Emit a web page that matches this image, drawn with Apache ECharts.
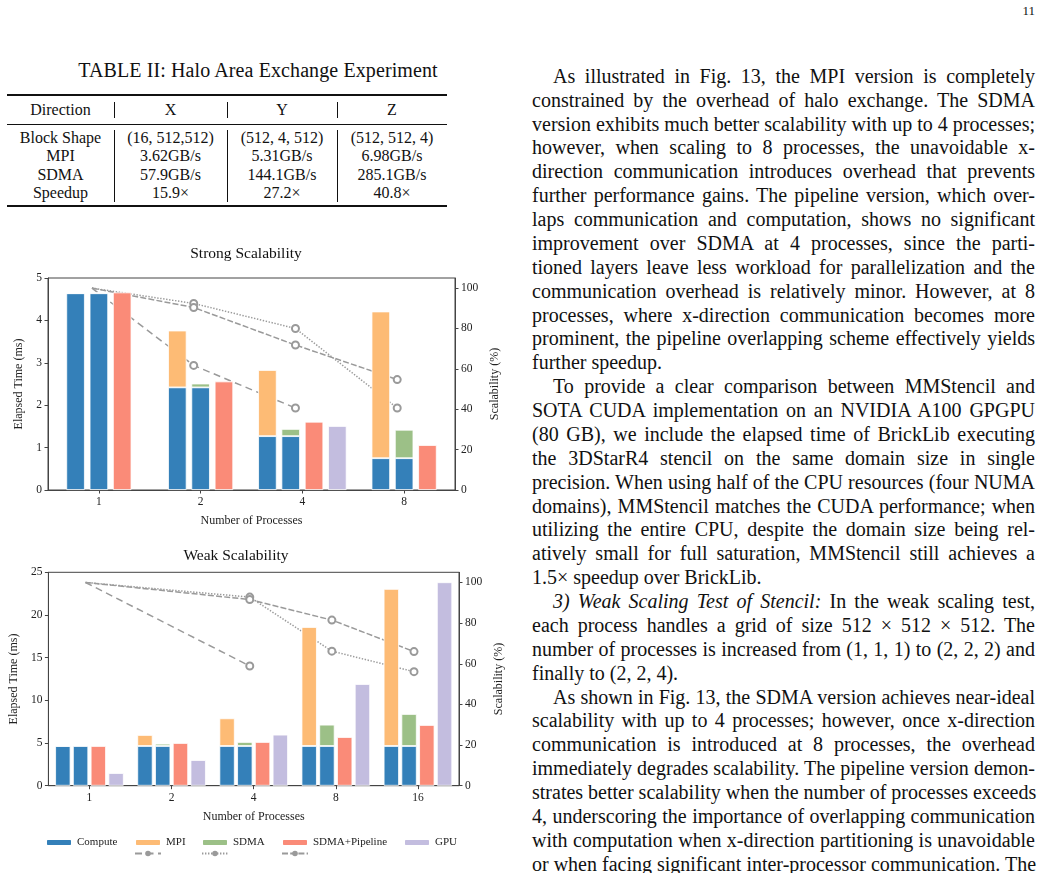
<!DOCTYPE html>
<html>
<head>
<meta charset="utf-8">
<script src="https://cdn.jsdelivr.net/npm/echarts@6/dist/echarts.min.js"></script>
<style>
  html, body { margin: 0; padding: 0; background: #fff; }
  body { width: 1041px; height: 873px; position: relative; overflow: hidden;
         font-family: 'Liberation Serif', 'Times New Roman', serif; color: #111; }
  .abs { position: absolute; }
  .pageno { right: 6px; top: 3px; font-size: 13px; }
  .caption { left: -2px; width: 520px; top: 59px; text-align: center; font-size: 20px; letter-spacing: 0.1px; }
  .rule { background: #111; left: 7px; width: 440px; }
  .vrule { background: #111; width: 1px; }
  .cell { text-align: center; font-size: 16px; line-height: 18.2px; }
  #text { left: 532px; top: 64.8px; width: 503px; font-size: 20px; line-height: 23.87px; }
  #text div { text-align: justify; text-align-last: justify; white-space: nowrap; }
  #text div.last { text-align-last: left; }
  #text div.ind { padding-left: 21px; }
  #chart { left: 0; top: 230px; width: 525px; height: 643px; }
</style>
</head>
<body>
<div class="abs pageno">11</div>

<!-- table II -->
<div class="abs caption">TABLE II: Halo Area Exchange Experiment</div>
<div class="abs rule" style="top:94.3px;height:1.4px"></div>
<div class="abs rule" style="top:123.5px;height:1px"></div>
<div class="abs rule" style="top:205.3px;height:1.4px"></div>
<div class="abs vrule" style="left:114px;top:101.7px;height:16.6px"></div>
<div class="abs vrule" style="left:226.5px;top:101.7px;height:16.6px"></div>
<div class="abs vrule" style="left:336.5px;top:101.7px;height:16.6px"></div>
<div class="abs vrule" style="left:114px;top:130px;height:71.7px"></div>
<div class="abs vrule" style="left:226.5px;top:130px;height:71.7px"></div>
<div class="abs vrule" style="left:336.5px;top:130px;height:71.7px"></div>
<div class="abs cell" style="left:7px;width:107px;top:100.9px">Direction</div>
<div class="abs cell" style="left:115px;width:111px;top:100.9px">X</div>
<div class="abs cell" style="left:227px;width:110px;top:100.9px">Y</div>
<div class="abs cell" style="left:337px;width:110px;top:100.9px">Z</div>
<div class="abs cell" style="left:7px;width:107px;top:129.2px">Block Shape<br>MPI<br>SDMA<br>Speedup</div>
<div class="abs cell" style="left:115px;width:111px;top:129.2px">(16, 512,512)<br>3.62GB/s<br>57.9GB/s<br>15.9&times;</div>
<div class="abs cell" style="left:227px;width:110px;top:129.2px">(512, 4, 512)<br>5.31GB/s<br>144.1GB/s<br>27.2&times;</div>
<div class="abs cell" style="left:337px;width:110px;top:129.2px">(512, 512, 4)<br>6.98GB/s<br>285.1GB/s<br>40.8&times;</div>

<!-- right column text -->
<div id="text" class="abs">
  <div class="ind">As illustrated in Fig. 13, the MPI version is completely</div>
  <div>constrained by the overhead of halo exchange. The SDMA</div>
  <div>version exhibits much better scalability with up to 4 processes;</div>
  <div>however, when scaling to 8 processes, the unavoidable x-</div>
  <div>direction communication introduces overhead that prevents</div>
  <div>further performance gains. The pipeline version, which over-</div>
  <div>laps communication and computation, shows no significant</div>
  <div>improvement over SDMA at 4 processes, since the parti-</div>
  <div>tioned layers leave less workload for parallelization and the</div>
  <div>communication overhead is relatively minor. However, at 8</div>
  <div>processes, where x-direction communication becomes more</div>
  <div>prominent, the pipeline overlapping scheme effectively yields</div>
  <div class="last">further speedup.</div>
  <div class="ind">To provide a clear comparison between MMStencil and</div>
  <div>SOTA CUDA implementation on an NVIDIA A100 GPGPU</div>
  <div>(80 GB), we include the elapsed time of BrickLib executing</div>
  <div>the 3DStarR4 stencil on the same domain size in single</div>
  <div>precision. When using half of the CPU resources (four NUMA</div>
  <div>domains), MMStencil matches the CUDA performance; when</div>
  <div>utilizing the entire CPU, despite the domain size being rel-</div>
  <div>atively small for full saturation, MMStencil still achieves a</div>
  <div class="last">1.5&times; speedup over BrickLib.</div>
  <div class="ind"><i>3) Weak Scaling Test of Stencil:</i> In the weak scaling test,</div>
  <div>each process handles a grid of size 512 &times; 512 &times; 512. The</div>
  <div>number of processes is increased from (1, 1, 1) to (2, 2, 2) and</div>
  <div class="last">finally to (2, 2, 4).</div>
  <div class="ind">As shown in Fig. 13, the SDMA version achieves near-ideal</div>
  <div>scalability with up to 4 processes; however, once x-direction</div>
  <div>communication is introduced at 8 processes, the overhead</div>
  <div>immediately degrades scalability. The pipeline version demon-</div>
  <div>strates better scalability when the number of processes exceeds</div>
  <div>4, underscoring the importance of overlapping communication</div>
  <div>with computation when x-direction partitioning is unavoidable</div>
  <div>or when facing significant inter-processor communication. The</div>
</div>

<div id="chart" class="abs"></div>

<script>
// strong scaling (ms); MPI / SDMA are the extra time stacked on top of compute
const strongCats = ['1', '2', '4', '8'];
const strongCompute = [4.64, 2.42, 1.27, 0.75];
const strongMpi = [0, 1.34, 1.56, 3.46];
const strongSdma = [0.02, 0.09, 0.17, 0.67];
const strongPipeline = [4.66, 2.56, 1.61, 1.06];
const strongGpu = [null, null, 1.51, null];
// scalability (%)
const strongMpiScal = [100, 61.7, 40.6, null];
const strongSdmaScal = [100, 92.4, 80.0, 40.6];
const strongPipeScal = [100, 90.4, 71.8, 54.7];

// weak scaling
const weakCats = ['1', '2', '4', '8', '16'];
const weakCompute = [4.65, 4.65, 4.65, 4.65, 4.65];
const weakMpi = [0, 1.29, 3.24, 13.94, 18.4];
const weakSdma = [0.08, 0.27, 0.47, 2.5, 3.75];
const weakPipeline = [4.65, 5.0, 5.12, 5.7, 7.11];
const weakGpu = [1.48, 3.0, 5.98, 11.91, 23.83];
const weakMpiScal = [100, null, 58.9, null, null];
const weakSdmaScal = [100, null, 92.8, 66.2, 56.1];
const weakPipeScal = [100, null, 91.6, 81.5, 66.0];

const scalTicks = [0, 20, 40, 60, 80, 100];
const barNames = ['Compute', 'MPI', 'SDMA', 'SDMA+Pipeline', 'GPU'];

const FONT = "'Liberation Serif', 'Times New Roman', serif";
const colors = {
  Compute: '#3480b9',
  MPI: '#fdbb75',
  SDMA: '#9cc087',
  'SDMA+Pipeline': '#fa8b78',
  GPU: '#c3bddf'
};
const lineColor = '#9a9a9a';
const lineNames = ['MPI scalability', 'SDMA scalability', 'SDMA+Pipeline scalability'];
const lineTypes = [[7, 4.5], [1.4, 1.6], [6, 2.2]];

const chart = echarts.init(document.getElementById('chart'));

// two category axes per grid: groups without GPU get 3 slots, with GPU 4 slots
function makeBars(xa, ya, compute, mpi, sdma, pipe, gpu, width, gap) {
  const hasGpu = gpu.map(v => v != null);
  const out = [];
  [[xa, false], [xa + 1, true]].forEach(([axis, want]) => {
    const pick = arr => arr.map((v, i) => (hasGpu[i] === want ? v : '-'));
    const bar = (name, data, stack) => ({
      type: 'bar', name, data, stack, xAxisIndex: axis, yAxisIndex: ya,
      barWidth: width, barGap: gap, z: 3,
      itemStyle: { color: colors[name], borderColor: '#fff', borderWidth: 0.8 }
    });
    out.push(bar('Compute', pick(compute), 'a' + axis));
    out.push(bar('MPI', pick(mpi), 'a' + axis));
    out.push(bar('Compute', pick(compute), 'b' + axis));
    out.push(bar('SDMA', pick(sdma), 'b' + axis));
    out.push(bar('SDMA+Pipeline', pick(pipe), undefined));
    if (want) out.push(bar('GPU', pick(gpu), undefined));
  });
  return out;
}

// lines sit on a hidden value axis (index = category position)
function makeLines(xa, ya, lists) {
  return lists.map((vals, k) => ({
    type: 'line', name: lineNames[k], xAxisIndex: xa, yAxisIndex: ya, z: 1,
    data: vals.map((v, i) => [i, v]).filter(d => d[1] != null),
    symbol: (v, p) => (p.dataIndex === 0 ? 'none' : 'emptyCircle'),
    symbolSize: 7,
    lineStyle: { color: lineColor, width: 1.5, type: lineTypes[k] },
    itemStyle: { color: lineColor, borderWidth: 2 }
  }));
}

const axisLineStyle = { show: true, onZero: false, lineStyle: { color: '#444', width: 1 } };
const tickStyle = { show: true, inside: false, length: 3.5, lineStyle: { color: '#444' } };
const labelStyle = { color: '#222', fontSize: 11.5, fontFamily: FONT, margin: 6 };
const nameStyle = { color: '#222', fontSize: 12, fontFamily: FONT };

function catAxis(grid, cats, show) {
  return {
    type: 'category', gridIndex: grid, data: cats, show,
    axisLine: axisLineStyle, axisTick: { ...tickStyle, alignWithLabel: true },
    axisLabel: labelStyle,
    name: show ? 'Number of Processes' : '', nameLocation: 'middle', nameGap: 25,
    nameTextStyle: nameStyle
  };
}
function lineAxis(grid, n, shift) {
  return {
    type: 'value', gridIndex: grid, show: false, min: -0.5 + shift, max: n - 0.5 + shift,
    axisLine: { onZero: false }, splitLine: { show: false }
  };
}
function leftAxis(grid, max, interval) {
  return {
    type: 'value', gridIndex: grid, min: 0, max, interval,
    axisLine: axisLineStyle, axisTick: tickStyle, axisLabel: labelStyle,
    splitLine: { show: false },
    name: 'Elapsed Time (ms)', nameLocation: 'middle', nameRotate: 90, nameGap: 23,
    nameTextStyle: nameStyle
  };
}
function rightAxis(grid) {
  return {
    type: 'value', gridIndex: grid, position: 'right', min: 0, max: 105,
    axisLine: axisLineStyle,
    axisTick: { ...tickStyle, customValues: scalTicks },
    axisLabel: { ...labelStyle, customValues: scalTicks },
    splitLine: { show: false },
    name: 'Scalability (%)', nameLocation: 'middle', nameRotate: 90, nameGap: 32,
    nameTextStyle: nameStyle
  };
}

const gridStyle = { show: true, borderColor: '#444', borderWidth: 1, containLabel: false };

const legendText = { fontSize: 11, fontFamily: FONT, color: '#222' };
const barLegends = [45, 134, 201, 281, 403].map((x, k) => ({
  data: [barNames[k]], left: x, top: 607, itemWidth: 26, itemHeight: 7,
  textStyle: legendText, padding: 0
}));
const lineLegends = [134, 201, 281].map((x, k) => ({
  data: [lineNames[k]], left: x, top: 620, itemWidth: 26, itemHeight: 7,
  formatter: () => '', textStyle: legendText, padding: 0
}));

chart.setOption({
  animation: false,
  textStyle: { fontFamily: FONT },
  graphic: [
    { type: 'text', x: 246, y: 24, style: { text: 'Strong Scalability', align: 'center', verticalAlign: 'middle', font: '15.5px ' + FONT, fill: '#111' } },
    { type: 'text', x: 236, y: 326, style: { text: 'Weak Scalability', align: 'center', verticalAlign: 'middle', font: '15.5px ' + FONT, fill: '#111' } }
  ],
  grid: [
    { ...gridStyle, left: 48, top: 48, width: 407, height: 212 },
    { ...gridStyle, left: 46, top: 342.3, width: 413, height: 213.4 }
  ],
  xAxis: [
    catAxis(0, strongCats, true),
    catAxis(0, strongCats, false),
    lineAxis(0, strongCats.length, 0.068),
    catAxis(1, weakCats, true),
    catAxis(1, weakCats, false),
    lineAxis(1, weakCats.length, 0.048)
  ],
  yAxis: [
    leftAxis(0, 5, 1),
    rightAxis(0),
    leftAxis(1, 25, 5),
    rightAxis(1)
  ],
  legend: [...barLegends, ...lineLegends],
  series: [
    ...makeLines(2, 1, [strongMpiScal, strongSdmaScal, strongPipeScal]),
    ...makeBars(0, 0, strongCompute, strongMpi, strongSdma, strongPipeline, strongGpu, 18.5, '26%'),
    ...makeLines(5, 3, [weakMpiScal, weakSdmaScal, weakPipeScal]),
    ...makeBars(3, 2, weakCompute, weakMpi, weakSdma, weakPipeline, weakGpu, 15.3, '16%')
  ]
});
</script>
</body>
</html>
